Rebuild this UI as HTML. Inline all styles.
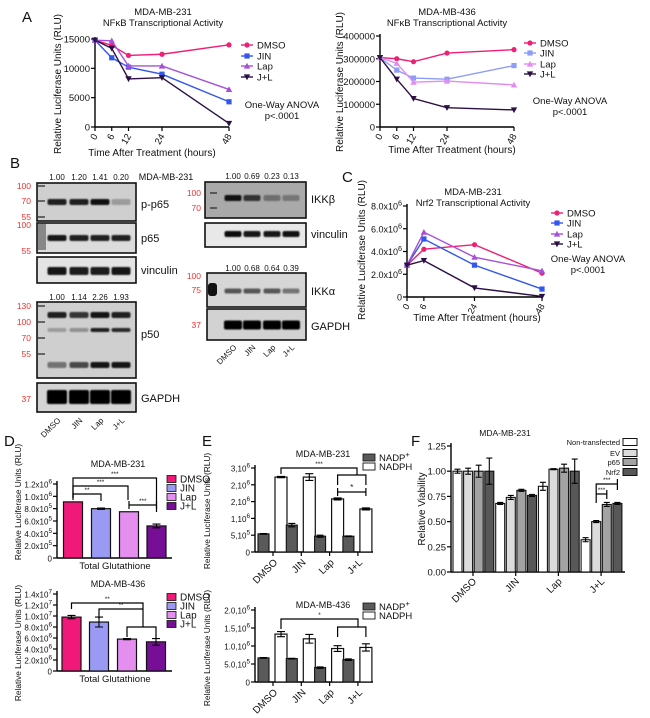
<!DOCTYPE html>
<html><head><meta charset="utf-8">
<style>
html,body{margin:0;padding:0;background:#fff;}
svg{display:block;font-family:"Liberation Sans",Arial,sans-serif;}
</style></head>
<body>
<svg id="fig" width="650" height="718" viewBox="0 0 650 718" xmlns="http://www.w3.org/2000/svg">
<defs><filter id="blur" x="-20%" y="-50%" width="140%" height="200%"><feGaussianBlur stdDeviation="0.9"/></filter></defs>
</svg>
<script>
// ---------- DATA ----------
const a1Times=[0,6,12,24,48];
const a1Dmso=[14800,13900,12200,12400,14000];
const a1Jin=[14800,11800,10200,9000,4300];
const a1Lap=[14800,14700,10400,10400,6400];
const a1Jl=[14800,13400,8200,8400,600];
const a1Ticks=[0,5000,10000,15000];
const a1TickLabels=["0","5000","10000","15000"];

const a2Times=[0,6,12,24,48];
const a2Dmso=[305000,300000,287000,325000,340000];
const a2Jin=[305000,250000,215000,210000,270000];
const a2Lap=[305000,280000,197000,202000,185000];
const a2Jl=[305000,210000,125000,85000,75000];
const a2Ticks=[0,100000,200000,300000,400000];
const a2TickLabels=["0","100000","200000","300000","400000"];

const cTimes=[0,6,24,48];
const cDmso=[2.8e6,4.2e6,4.6e6,2.1e6];
const cJin=[2.8e6,5.1e6,2.8e6,0.7e6];
const cLap=[2.8e6,5.7e6,3.5e6,2.3e6];
const cJl=[2.8e6,3.2e6,0.8e6,0.05e6];
const cTicks=[0,2e6,4e6,6e6,8e6];
const cTickLabels=["0","2.0x10^6","4.0x10^6","6.0x10^6","8.0x10^6"];

const groups=["DMSO","JIN","Lap","J+L"];
const d1Values=[0.91e6,0.80e6,0.75e6,0.52e6];
const d1Errors=[0,0.01e6,0,0.03e6];
const d1Ticks=[0,2e5,4e5,6e5,8e5,1e6,1.2e6];
const d1TickLabels=["0","2.0x10^5","4.0x10^5","6.0x10^5","8.0x10^5","1.0x10^6","1.2x10^6"];
const d2Values=[0.98e7,0.89e7,0.58e7,0.53e7];
const d2Errors=[0.03e7,0.09e7,0.01e7,0.06e7];
const d2Ticks=[0,2e6,4e6,6e6,8e6,1e7,1.2e7,1.4e7];
const d2TickLabels=["0","2.0x10^6","4.0x10^6","6.0x10^6","8.0x10^6","1.0x10^7","1.2x10^7","1.4x10^7"];

const e1Nadp=[0.54e6,0.80e6,0.47e6,0.47e6];
const e1NadpErr=[0.01e6,0.05e6,0.03e6,0.01e6];
const e1Nadph=[2.23e6,2.23e6,1.58e6,1.28e6];
const e1NadphErr=[0.02e6,0.1e6,0.03e6,0.03e6];
const e1Ticks=[0,5e5,1e6,1.5e6,2e6,2.5e6];
const e1TickLabels=["0","5,10^5","1,10^6","2,10^6","2,10^6","3,10^6"];
const e2Nadp=[0.67e6,0.65e6,0.40e6,0.62e6];
const e2NadpErr=[0.01e6,0.01e6,0.02e6,0.02e6];
const e2Nadph=[1.33e6,1.20e6,0.93e6,0.96e6];
const e2NadphErr=[0.07e6,0.12e6,0.08e6,0.10e6];
const e2Ticks=[0,5e5,1e6,1.5e6,2e6];
const e2TickLabels=["0","5.0,10^5","1.0,10^6","1.5,10^6","2.0,10^6"];

const fSeries=["Non-transfected","EV","p65","Nrf2"];
const fValues=[[1.00,1.00,1.00,1.00],[0.68,0.74,0.81,0.76],[0.85,1.02,1.03,1.00],[0.32,0.50,0.67,0.68]];
const fErrors=[[0.02,0.03,0.06,0.13],[0.01,0.02,0.01,0.01],[0.04,0.005,0.04,0.12],[0.02,0.01,0.02,0.01]];
const fTicks=[0,0.25,0.5,0.75,1.0,1.25];
const fTickLabels=["0.00","0.25","0.50","0.75","1.00","1.25"];

// ---------- HELPERS ----------
const NS="http://www.w3.org/2000/svg";
const S=document.getElementById('fig');
function add(p,tag,at){const e=document.createElementNS(NS,tag);for(const k in at)e.setAttribute(k,at[k]);p.appendChild(e);return e;}
function txt(p,x,y,s,size,anchor,fill,rot){
  const t=add(p,'text',{x:x,y:y,'font-size':size,'text-anchor':anchor||'start',fill:fill||'#111'});
  if(rot!==undefined)t.setAttribute('transform','rotate('+rot+' '+x+' '+y+')');
  const parts=s.split('^');
  t.appendChild(document.createTextNode(parts[0]));
  if(parts[1]){const sp=add(t,'tspan',{dy:-4,'font-size':size*0.8});sp.textContent=parts[1];}
  return t;
}
function grp(name){const g=add(S,'g',{});return g;}
function marker(p,type,x,y,c,r){
  let m;
  if(type==='circle')m=add(p,'circle',{cx:x,cy:y,r:r,fill:c});
  else if(type==='square')m=add(p,'rect',{x:x-r,y:y-r,width:2*r,height:2*r,fill:c});
  else if(type==='up')m=add(p,'path',{d:`M${x},${y-r-0.6}L${x+r+0.6},${y+r}L${x-r-0.6},${y+r}Z`,fill:c});
  else m=add(p,'path',{d:`M${x},${y+r+0.6}L${x+r+0.6},${y-r}L${x-r-0.6},${y-r}Z`,fill:c});
  return m;
}
function yAxis(g,x,yS,ticks,labels,y0,y1,fs){
  const ax=add(g,'line',{x1:x,y1:y0,x2:x,y2:y1,stroke:'#000','stroke-width':1.4});
  
  ticks.forEach((t,i)=>{
    const y=yS(t);
    add(g,'line',{x1:x-4,y1:y,x2:x,y2:y,stroke:'#000','stroke-width':1.2});
    const lb=txt(g,x-5,y+3.5,labels[i],fs,'end');
    
    
  });
}
function lineChart(cfg){
  const g=grp(cfg.name);
  const xS=v=>cfg.x0+(v/cfg.xmax)*(cfg.x1-cfg.x0);
  const yS=v=>cfg.yb-(v/cfg.ymax)*(cfg.yb-cfg.yt);
  yAxis(g,cfg.x0,yS,cfg.ticks,cfg.tickLabels,cfg.yb,cfg.yt-2,cfg.fs);
  add(g,'line',{x1:cfg.x0,y1:cfg.yb,x2:cfg.x1,y2:cfg.yb,stroke:'#000','stroke-width':1.4});
  cfg.times.forEach(t=>{
    const x=xS(t);
    add(g,'line',{x1:x,y1:cfg.yb,x2:x,y2:cfg.yb+4,stroke:'#000','stroke-width':1.2});
    const lb=txt(g,x+3,cfg.yb+9,String(t),cfg.fs,'end','#111',-60);
    
    
  });
  cfg.series.forEach((s,si)=>{
    const pts=s.vals.map((v,i)=>xS(cfg.times[i])+','+yS(v)).join(' ');
    const pl=add(g,'polyline',{points:pts,fill:'none',stroke:s.color,'stroke-width':1.4});
    
    
    s.vals.forEach((v,i)=>{
      const m=marker(g,s.mk,xS(cfg.times[i]),yS(v),s.color,2.6);
      
      
    });
    const ly=cfg.legY[si];
    add(g,'line',{x1:cfg.legX-6,y1:ly,x2:cfg.legX+6,y2:ly,stroke:s.color,'stroke-width':1.4});
    const lm=marker(g,s.mk,cfg.legX,ly,s.color,2.6);
    
    
    const lt=txt(g,cfg.legX+10,ly+3.5,s.label,cfg.legFs,'start');
    
    
  });
  cfg.title.forEach((t,i)=>txt(g,cfg.tx,cfg.ty+i*11,t,cfg.tfs||9.5,'middle'));
  txt(g,cfg.xtx,cfg.xty,'Time After Treatment (hours)',cfg.lfs||10,'middle');
  txt(g,cfg.ytx,cfg.yty,'Relative Luciferase Units (RLU)',cfg.lfs||10,'middle','#111',-90);
  txt(g,cfg.ax,cfg.ay,'One-Way ANOVA',cfg.legFs,'middle');
  txt(g,cfg.ax,cfg.ay+11,'p<.0001',cfg.legFs,'middle');
  return {xS,yS,g};
}
function bracket(g,xa,xb,y,dropA,dropB,label){
  add(g,'path',{d:`M${xa},${y+dropA}L${xa},${y}L${xb},${y}L${xb},${y+dropB}`,fill:'none',stroke:'#000','stroke-width':1.2});
  if(label){const t=txt(g,(xa+xb)/2,y-2,label,6.5,'middle');}
}
function errBar(g,x,yTop,yBot,w){
  add(g,'path',{d:`M${x},${yTop}L${x},${yBot}M${x-w},${yTop}L${x+w},${yTop}M${x-w},${yBot}L${x+w},${yBot}`,stroke:'#000','stroke-width':1.1,fill:'none'});
}

// ---------- PANEL LETTERS ----------
[['A',22,22],['B',10,168],['C',342,182],['D',4,446],['E',202,446],['F',411,446]].forEach(p=>{
  const t=txt(S,p[1],p[2],p[0],15,'start');
  
  
});

// ---------- PANEL A ----------
const colPink='#ee1f74', colDark='#2b0f45';
lineChart({name:'chart-a-mda-mb-231',x0:95,x1:229,xmax:48,yt:39,yb:127,ymax:15000,times:a1Times,ticks:a1Ticks,tickLabels:a1TickLabels,fs:9.5,
  series:[{label:'DMSO',vals:a1Dmso,color:colPink,mk:'circle'},{label:'JIN',vals:a1Jin,color:'#3256ee',mk:'square'},{label:'Lap',vals:a1Lap,color:'#a650d8',mk:'up'},{label:'J+L',vals:a1Jl,color:colDark,mk:'down'}],
  legX:247,legY:[45,56,66,77],legFs:9.5,title:['MDA-MB-231','NFκB Transcriptional Activity'],tx:163,ty:15,xtx:152,xty:156,ytx:61,yty:84,ax:282,ay:108});
lineChart({name:'chart-a-mda-mb-436',x0:380,x1:514,xmax:48,yt:36,yb:127,ymax:400000,times:a2Times,ticks:a2Ticks,tickLabels:a2TickLabels,fs:9.5,
  series:[{label:'DMSO',vals:a2Dmso,color:colPink,mk:'circle'},{label:'JIN',vals:a2Jin,color:'#8d9cf5',mk:'square'},{label:'Lap',vals:a2Lap,color:'#e28cf3',mk:'up'},{label:'J+L',vals:a2Jl,color:colDark,mk:'down'}],
  legX:530,legY:[43,53,64,74],legFs:9.5,title:['MDA-MB-436','NFκB Transcriptional Activity'],tx:447,ty:15,xtx:452,xty:153,ytx:343,yty:82,ax:570,ay:104});

// ---------- PANEL C ----------
lineChart({name:'chart-c-nrf2',x0:407,x1:542,xmax:48,yt:206,yb:297,ymax:8e6,times:cTimes,ticks:cTicks,tickLabels:cTickLabels,fs:9,
  series:[{label:'DMSO',vals:cDmso,color:colPink,mk:'circle'},{label:'JIN',vals:cJin,color:'#3256ee',mk:'square'},{label:'Lap',vals:cLap,color:'#a650d8',mk:'up'},{label:'J+L',vals:cJl,color:colDark,mk:'down'}],
  legX:557,legY:[213,223,234,244],legFs:9.5,title:['MDA-MB-231','Nrf2 Transcriptional Activity'],tx:473,ty:195,xtx:477,xty:321,ytx:365,yty:250,ax:588,ay:262});

// ---------- PANEL B (western blots) ----------
function blot(name,x,y,w,h,bg,lanes,bw,bands,label,ly){
  const g=grp(name);
  add(g,'rect',{x:x,y:y,width:w,height:h,fill:bg,stroke:'#111','stroke-width':1.6});
  bands.forEach(b=>{
    lanes.forEach((lx,i)=>{
      if(b.v[i]<=0)return;
      const r=add(g,'rect',{x:lx-bw/2,y:b.y-b.h/2,width:bw,height:b.h,rx:2,fill:'#000','fill-opacity':b.v[i],filter:'url(#blur)'});
      
      
    });
  });
  const t=txt(g,x+w+5,ly,label,11,'start');
  
  
  return g;
}
function mw(g,xr,vals,ys,tickX){
  vals.forEach((v,i)=>{
    txt(g,xr,ys[i]+3,v,8.5,'end','#f0302f');
    if(tickX)add(g,'line',{x1:tickX,y1:ys[i],x2:tickX+7,y2:ys[i],stroke:'#222','stroke-width':1.2});
  });
}
const L=[57,79,100,121], R=[233,252,272,291];
const bNums1=["1.00","1.20","1.41","0.20"], bNums2=["1.00","1.14","2.26","1.93"], bNums3=["1.00","0.69","0.23","0.13"], bNums4=["1.00","0.68","0.64","0.39"];
const gb=grp('blot-annotations');
bNums1.forEach((n,i)=>txt(gb,L[i],180,n,8,'middle'));
txt(gb,166,180,'MDA-MB-231',9,'middle');
bNums2.forEach((n,i)=>txt(gb,L[i],300,n,8,'middle'));
bNums3.forEach((n,i)=>txt(gb,R[i],179,n,8,'middle'));
bNums4.forEach((n,i)=>txt(gb,R[i],271,n,8,'middle'));

let g1=blot('blot-p-p65',37,183,99,38,'#cfcfcf',L,19,[{y:202,h:6,v:[0.85,0.85,0.92,0.25]}],'p-p65',208);
mw(g1,31,['100','70','55'],[186,201,217],38);
let g2=blot('blot-p65',37,223,99,30,'#dcdcdc',L,19,[{y:238,h:6,v:[0.9,0.85,0.85,0.85]}],'p65',242);
add(g2,'rect',{x:38,y:224,width:8,height:26,fill:'#333','fill-opacity':0.5});
mw(g2,31,['100','55'],[225,251],null);
blot('blot-vinculin-left',37,257,99,26,'#e4e4e4',L,19,[{y:271,h:8,v:[0.9,0.88,0.88,0.9]}],'vinculin',274);
let g4=blot('blot-p50',37,302,99,76,'#cfcfcf',L,19,[{y:315,h:6,v:[0.85,0.75,0.9,0.85]},{y:330,h:4,v:[0.25,0.3,0.85,0.8]},{y:365,h:6,v:[0.45,0.65,0.9,0.9]}],'p50',338);
mw(g4,31,['130','100','70','55'],[306,322,338,354],38);
let g5=blot('blot-gapdh-left',37,383,99,29,'#d4d4d4',L,20,[{y:397,h:14,v:[1,1,1,1]}],'GAPDH',402);
mw(g5,31,['37'],[399],null);
let g6=blot('blot-ikkb',205,182,101,36,'#a9a9a9',R,17,[{y:198,h:6,v:[0.9,0.7,0.35,0.3]}],'IKKβ',203);
mw(g6,201,['100','70'],[193,208],210);
blot('blot-vinculin-right',205,223,101,24,'#e8e8e8',R,17,[{y:234,h:6,v:[0.95,0.9,0.9,0.92]}],'vinculin',238);
let g8=blot('blot-ikka',207,273,99,34,'#d6d6d6',R,17,[{y:291,h:5,v:[0.6,0.6,0.6,0.45]}],'IKKα',295);
add(g8,'rect',{x:208,y:283,width:9,height:13,fill:'#111',rx:3});
mw(g8,201,['100','75'],[276,290],null);
let g9=blot('blot-gapdh-right',207,309,99,31,'#d2d2d2',R,18,[{y:325,h:9,v:[1,1,1,1]}],'GAPDH',330);
mw(g9,201,['37'],[325],null);
groups.forEach((n,i)=>{
  const t=txt(gb,L[i]+4,421,n,8,'end','#111',-45);
  
  
  const t2=txt(gb,R[i]+4,348,n,8,'end','#111',-45);
  
  
});

// ---------- PANEL D ----------
const dColors=['#f0197a','#9a9af5','#e48ef0','#760f96'];
function dChart(name,vals,errs,ticks,labels,yt,yb,centers,titleY,legY,tgY,ytitleY){
  const g=grp(name);
  const ymax=ticks[ticks.length-1];
  const yS=v=>yb-(v/ymax)*(yb-yt);
  yAxis(g,57,yS,ticks,labels,yb,yt-3,8);
  add(g,'line',{x1:57,y1:yb,x2:172,y2:yb,stroke:'#000','stroke-width':1.4});
  vals.forEach((v,i)=>{
    const r=add(g,'rect',{x:centers[i]-9.5,y:yS(v),width:19,height:yb-yS(v),fill:dColors[i],stroke:'#111','stroke-width':1.2});
    
    
    if(errs[i]>0)errBar(g,centers[i],yS(v+errs[i]),yS(v-errs[i]),4);
    add(g,'rect',{x:167,y:legY[i]-3.5,width:9,height:7,fill:dColors[i],stroke:'#111','stroke-width':0.8});
    const lt=txt(g,180,legY[i]+3.5,groups[i],10,'start');
    
    
  });
  txt(g,118,titleY,name.indexOf('231')>0?'MDA-MB-231':'MDA-MB-436',9,'middle');
  txt(g,115,tgY,'Total Glutathione',9.5,'middle');
  txt(g,21,ytitleY,'Relative Luciferase Units (RLU)',8.3,'middle','#111',-90);
  return {g,yS};
}
const dC1=[73,101,129,156.5], dC2=[71.5,99,127,156];
const D1=dChart('chart-d-mda-mb-231',d1Values,d1Errors,d1Ticks,d1TickLabels,484,558,dC1,467,[479,488,497,506],569,502);
bracket(D1.g,dC1[0],dC1[3],478,20,34,'***');
bracket(D1.g,dC1[0],dC1[2]-1,486,12,14,'***');
bracket(D1.g,dC1[0],dC1[1],494,6,7,'**');
add(D1.g,'path',{d:`M${dC1[2]},501L${dC1[2]},509M${dC1[2]},505L${dC1[3]},505M${dC1[3]},501L${dC1[3]},509`,stroke:'#000','stroke-width':1.2,fill:'none'});
txt(D1.g,(dC1[2]+dC1[3])/2,503,'***',6.5,'middle');
const D2=dChart('chart-d-mda-mb-436',d2Values,d2Errors,d2Ticks,d2TickLabels,594,671,dC2,587,[597,606,615,624],682,643);
bracket(D2.g,dC2[0],143,603,6,24,'**');
bracket(D2.g,dC2[1],143,609,10,0,'**');
bracket(D2.g,dC2[2],dC2[3],627,10,12,null);

// ---------- PANEL E ----------
function eChart(name,title,nadp,nadpE,nadph,nadphE,ticks,labels,yt,yb,titleY,legY,xlY,ytitleY){
  const g=grp(name);
  const ymax=ticks[ticks.length-1];
  const yS=v=>yb-(v/ymax)*(yb-yt);
  yAxis(g,255,yS,ticks,labels,yb,yt-3,8);
  add(g,'line',{x1:255,y1:yb,x2:373,y2:yb,stroke:'#000','stroke-width':1.4});
  const cs=groups.map((_,i)=>273+i*28.3);
  cs.forEach((c,i)=>{
    const r1=add(g,'rect',{x:c-15,y:yS(nadp[i]),width:11,height:yb-yS(nadp[i]),fill:'#5a5a5a',stroke:'#111','stroke-width':1.1});
    
    
    errBar(g,c-9.5,yS(nadp[i]+nadpE[i]),yS(nadp[i]-nadpE[i]),3.5);
    const r2=add(g,'rect',{x:c+2,y:yS(nadph[i]),width:12,height:yb-yS(nadph[i]),fill:'#fff',stroke:'#111','stroke-width':1.2});
    
    
    errBar(g,c+8,yS(nadph[i]+nadphE[i]),yS(nadph[i]-nadphE[i]),4);
    add(g,'line',{x1:c,y1:yb,x2:c,y2:yb+4,stroke:'#000','stroke-width':1.2});
    const t=txt(g,c+5,xlY,groups[i],10,'end','#111',-45);
    
    
  });
  txt(g,323,titleY,title,9,'middle');
  add(g,'rect',{x:363,y:legY-4,width:12,height:7,fill:'#5a5a5a',stroke:'#111','stroke-width':0.8});
  const l1=txt(g,379,legY+3,'NADP^+',9.5,'start');
  
  
  add(g,'rect',{x:363,y:legY+5,width:12,height:7,fill:'#fff',stroke:'#111','stroke-width':0.9});
  const l2=txt(g,379,legY+12,'NADPH',9.5,'start');
  
  
  txt(g,210,ytitleY,'Relative Luciferase Units (RLU)',8.3,'middle','#111',-90);
  return {g,yS,cs};
}
const E1=eChart('chart-e-mda-mb-231','MDA-MB-231',e1Nadp,e1NadpErr,e1Nadph,e1NadphErr,e1Ticks,e1TickLabels,468,552,457,458,563,511);
bracket(E1.g,E1.cs[0]+8,357,468,6,7,'***');
bracket(E1.g,E1.cs[2]+8,E1.cs[3]+8,475,10,10,null);
add(E1.g,'path',{d:`M${E1.cs[2]+8},488L${E1.cs[2]+8},496M${E1.cs[2]+8},492L${E1.cs[3]+8},492M${E1.cs[3]+8},488L${E1.cs[3]+8},496`,stroke:'#000','stroke-width':1.2,fill:'none'});
txt(E1.g,(E1.cs[2]+E1.cs[3])/2+8,490,'*',8,'middle');
const E2=eChart('chart-e-mda-mb-436','MDA-MB-436',e2Nadp,e2NadpErr,e2Nadph,e2NadphErr,e2Ticks,e2TickLabels,610,682,608,607,693,648);
bracket(E2.g,E2.cs[0]+8,358,619,10,8,'*');
bracket(E2.g,E2.cs[2]+8,E2.cs[3]+8,627,10,10,null);

// ---------- PANEL F ----------
(function(){
  const g=grp('chart-f-viability');
  const fColors=['#ffffff','#dcdcdc','#a3a3a3','#585858'];
  const yb=572,yt=446,ymax=1.25;
  const yS=v=>yb-(v/ymax)*(yb-yt);
  yAxis(g,451,yS,fTicks,fTickLabels,yb,yt-3,9.5);
  add(g,'line',{x1:451,y1:yb,x2:625,y2:yb,stroke:'#000','stroke-width':1.4});
  const starts=groups.map((_,i)=>453+i*42.7);
  fValues.forEach((gv,gi)=>{
    gv.forEach((v,si)=>{
      const x=starts[gi]+si*10.6;
      const r=add(g,'rect',{x:x,y:yS(v),width:9,height:yb-yS(v),fill:fColors[si],stroke:'#111','stroke-width':1.1});
      
      
      errBar(g,x+4.5,yS(v+fErrors[gi][si]),yS(v-fErrors[gi][si]),3);
    });
    const c=starts[gi]+20;
    add(g,'line',{x1:c,y1:yb,x2:c,y2:yb+4,stroke:'#000','stroke-width':1.2});
    const t=txt(g,c+4,yb+10,groups[gi],10,'end','#111',-45);
    
    
  });
  const legY=[442,453,462,472];
  fSeries.forEach((s,i)=>{
    add(g,'rect',{x:623,y:legY[i]-3.5,width:14,height:7,fill:fColors[i],stroke:'#111','stroke-width':1});
    const t=txt(g,620,legY[i]+3,s,7.5,'end');
    
    
  });
  txt(g,505,436,'MDA-MB-231',8.5,'middle');
  txt(g,425,509,'Relative Viability',10,'middle','#111',-90);
  const ev=starts[3]+10.6+4.5, p65=starts[3]+21.2+4.5, nrf=starts[3]+31.8+4.5;
  add(g,'path',{d:`M${ev},503L${ev},484L${nrf},484M${nrf},479L${nrf},490M${ev},494L${p65},494M${p65},490L${p65},499`,stroke:'#000','stroke-width':1.2,fill:'none'});
  txt(g,(ev+nrf)/2,482,'***',6.5,'middle');
  txt(g,(ev+p65)/2,492,'***',6.5,'middle');
})();
</script>
</body></html>
